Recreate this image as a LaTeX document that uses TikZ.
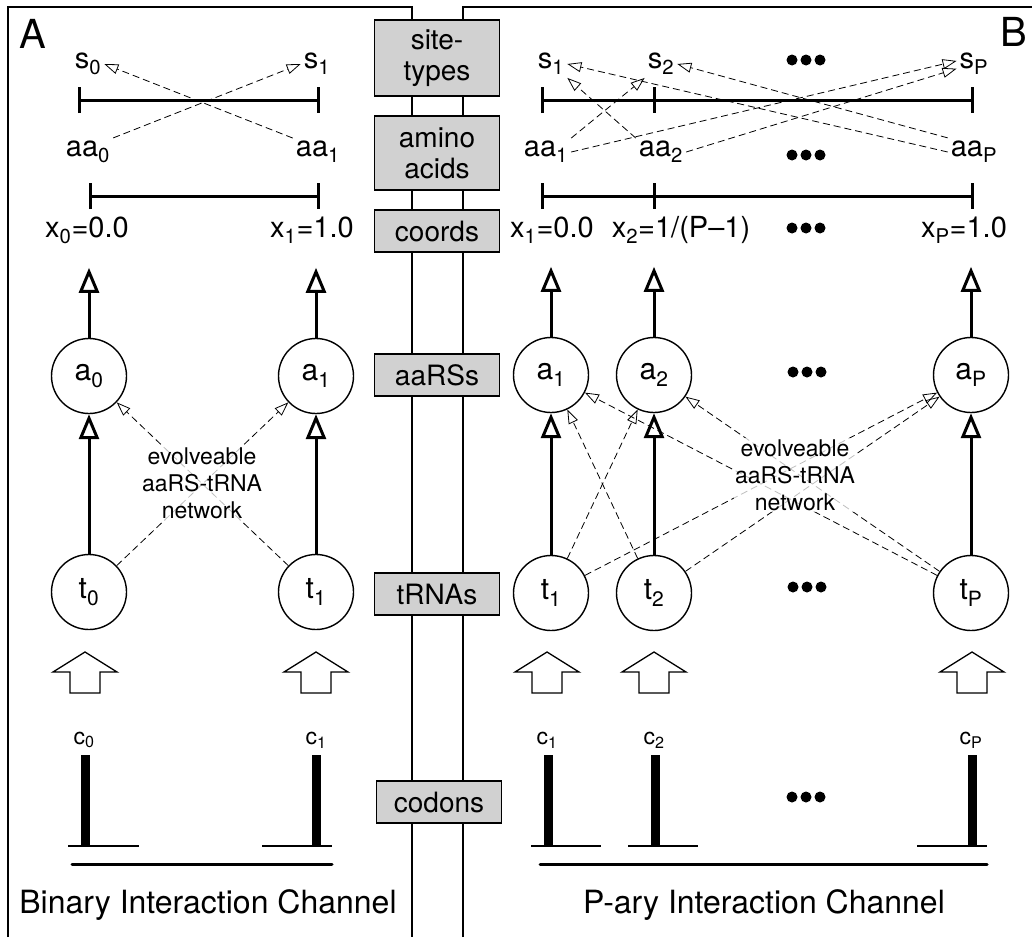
\documentclass[tikz,border=0pt]{standalone}
\usepackage{fontspec}
\setmainfont{TeX Gyre Heros}
\usetikzlibrary{arrows.meta,shapes}
\tikzset{
    panel/.style={line width=1.3pt},
    panelname/.style={font=\fontsize{40}{44}\selectfont},
    rowbox/.style={draw, line width=1.3pt, fill=black!18, minimum width=125pt, minimum height=42pt,
                   align=center, inner sep=2pt, font=\fontsize{28}{31}\selectfont},
    lab/.style={font=\fontsize{29}{32}\selectfont, inner sep=3pt},
    enz/.style={draw, circle, line width=1.4pt, minimum size=75pt, inner sep=0pt, font=\fontsize{30}{32}\selectfont},
    bar/.style={line width=3pt, {Bar[width=26pt]}-{Bar[width=26pt]}},
    midtick/.style={line width=3pt},
    flow/.style={line width=3pt, -{Triangle[open, length=25pt, width=20pt]}},
    link/.style={line width=0.8pt, dash pattern=on 7pt off 4pt, -{Triangle[open, length=14pt, width=10pt]}},
    netlab/.style={align=center, inner sep=1pt, font=\fontsize{23}{27}\selectfont,
                   fill=white, fill opacity=0.75, text opacity=1},
    blockup/.style={draw, line width=1.3pt, fill=white},
    clab/.style={font=\fontsize{23}{25}\selectfont, inner sep=1pt},
    codon/.style={line width=9pt},
    base/.style={line width=1.3pt},
    axis/.style={line width=3pt, line cap=round},
    title/.style={font=\fontsize{32}{36}\selectfont},
}
\newcommand{\upblock}[2]{\draw[blockup] (#1,#2) -- ++(32,20) -- ++(-17,0) -- ++(0,21) -- ++(-30,0) -- ++(0,-21) -- ++(-17,0) -- cycle;}
\newcommand{\moredots}[2]{\fill (#1-14,#2) circle (5.5pt) (#1,#2) circle (5.5pt) (#1+14,#2) circle (5.5pt);}

\begin{document}
\begin{tikzpicture}[x=1pt, y=-1pt]
    \useasboundingbox (0,0) rectangle (1032,937);

    % Panels
    \draw[panel] (8,937) -- (8,7) -- (412,7) -- (412,937);
    \draw[panel] (463,937) -- (463,7) -- (1032,7);
    \node[panelname] (nameA) at (33,34) {A};
    \node[panelname] (nameB) at (1014,32) {B};

    % Row labels
    \node[rowbox, minimum height=76pt] (siteBox) at (437,58) {site-\\types};
    \node[rowbox, minimum height=74pt] (aminoBox) at (437,153) {amino\\acids};
    \node[rowbox] (coordBox) at (437,231) {coords};
    \node[rowbox] (aarsBox) at (437,375) {aaRSs};
    \node[rowbox] (trnaBox) at (437,594) {tRNAs};
    \node[rowbox] (codonBox) at (439,802) {codons};

    % Binary channel: site-types, amino acids, coords
    \node[lab] (s0A) at (88,64) {s\textsubscript{0}};
    \node[lab] (s1A) at (317,64) {s\textsubscript{1}};
    \draw[bar] (78,100) -- (320,100);
    \node[lab] (aa0A) at (88,152) {aa\textsubscript{0}};
    \node[lab] (aa1A) at (318,152) {aa\textsubscript{1}};
    \draw[bar] (89,196) -- (320,196);
    \node[lab] (x0A) at (87,230) {x\textsubscript{0}=0.0};
    \node[lab] (x1A) at (312,230) {x\textsubscript{1}=1.0};
    \draw[link] (aa0A.north east) -- (s1A.west);
    \draw[link] (aa1A.north west) -- (s0A.east);

    % Binary channel: aaRSs and tRNAs
    \node[enz] (a0A) at (89,376) {a\textsubscript{0}};
    \node[enz] (a1A) at (316,376) {a\textsubscript{1}};
    \node[enz] (t0A) at (89,592) {t\textsubscript{0}};
    \node[enz] (t1A) at (316,592) {t\textsubscript{1}};
    \draw[flow] (a0A.north) -- ++(0,-70);
    \draw[flow] (a1A.north) -- ++(0,-70);
    \draw[flow] (t0A) -- (a0A);
    \draw[flow] (t1A) -- (a1A);
    \draw[link] (t0A) -- (a1A);
    \draw[link] (t1A) -- (a0A);
    \node[netlab] (netA) at (202,483) {evolveable\\aaRS-tRNA\\network};

    % Binary channel: codons
    \upblock{85}{652}
    \upblock{316}{652}
    \node[clab] (c0A) at (84,740) {c\textsubscript{0}};
    \node[clab] (c1A) at (316,740) {c\textsubscript{1}};
    \draw[codon] (85,755) -- (85,847);
    \draw[base] (68,846) -- (139,846);
    \draw[codon] (316,755) -- (316,847);
    \draw[base] (262,846) -- (332,846);
    \draw[axis] (72,864) -- (332,864);
    \node[title] (chanA) at (208,905) {Binary Interaction Channel};

    % P-ary channel: site-types, amino acids, coords
    \node[lab] (s1B) at (551,64) {s\textsubscript{1}};
    \node[lab] (s2B) at (661,64) {s\textsubscript{2}};
    \node[lab] (sPB) at (974,64) {s\textsubscript{P}};
    \moredots{806}{60}
    \draw[bar] (541,100) -- (974,100);
    \draw[midtick] (654,87) -- (654,113);
    \node[lab] (aa1B) at (546,152) {aa\textsubscript{1}};
    \node[lab] (aa2B) at (661,152) {aa\textsubscript{2}};
    \node[lab] (aaPB) at (974,152) {aa\textsubscript{P}};
    \moredots{806}{155}
    \draw[bar] (541,196) -- (974,196);
    \draw[midtick] (654,183) -- (654,209);
    \node[lab] (x1B) at (552,230) {x\textsubscript{1}=0.0};
    \node[lab] (x2B) at (681,230) {x\textsubscript{2}=1/(P--1)};
    \node[lab] (xPB) at (964,230) {x\textsubscript{P}=1.0};
    \moredots{806}{228}
    \draw[link] (aa1B.north east) -- (s2B.south west);
    \draw[link] (aa2B.north west) -- (s1B.south east);
    \draw[link] (aa1B.east) -- (sPB.170);
    \draw[link] (aa2B.east) -- (sPB.195);
    \draw[link] (aaPB.west) -- (s1B.east);
    \draw[link] (aaPB.north west) -- (s2B.east);

    % P-ary channel: aaRSs and tRNAs
    \node[enz] (a1B) at (551,375) {a\textsubscript{1}};
    \node[enz] (a2B) at (654,375) {a\textsubscript{2}};
    \node[enz] (aPB) at (971,375) {a\textsubscript{P}};
    \moredots{807}{372}
    \node[enz] (t1B) at (551,593) {t\textsubscript{1}};
    \node[enz] (t2B) at (654,593) {t\textsubscript{2}};
    \node[enz] (tPB) at (971,593) {t\textsubscript{P}};
    \moredots{807}{587}
    \draw[flow] (a1B.north) -- ++(0,-70);
    \draw[flow] (a2B.north) -- ++(0,-70);
    \draw[flow] (aPB.north) -- ++(0,-70);
    \draw[flow] (t1B) -- (a1B);
    \draw[flow] (t2B) -- (a2B);
    \draw[flow] (tPB) -- (aPB);
    \draw[link] (t1B) -- (a2B);
    \draw[link] (t2B) -- (a1B);
    \draw[link] (t1B) -- (aPB);
    \draw[link] (t2B) -- (aPB);
    \draw[link] (tPB) -- (a1B);
    \draw[link] (tPB) -- (a2B);
    \node[netlab] (netB) at (795,475) {evolveable\\aaRS-tRNA\\network};

    % P-ary channel: codons
    \upblock{547}{652}
    \upblock{654}{652}
    \upblock{972}{652}
    \node[clab] (c1B) at (547,740) {c\textsubscript{1}};
    \node[clab] (c2B) at (654,740) {c\textsubscript{2}};
    \node[clab] (cPB) at (971,740) {c\textsubscript{P}};
    \draw[codon] (548,755) -- (548,847);
    \draw[base] (531,846) -- (601,846);
    \draw[codon] (655,755) -- (655,847);
    \draw[base] (628,846) -- (698,846);
    \draw[codon] (972,755) -- (972,847);
    \draw[base] (917,846) -- (987,846);
    \moredots{806}{797}
    \draw[axis] (540,864) -- (987,864);
    \node[title] (chanB) at (764,905) {P-ary Interaction Channel};
\end{tikzpicture}
\end{document}
